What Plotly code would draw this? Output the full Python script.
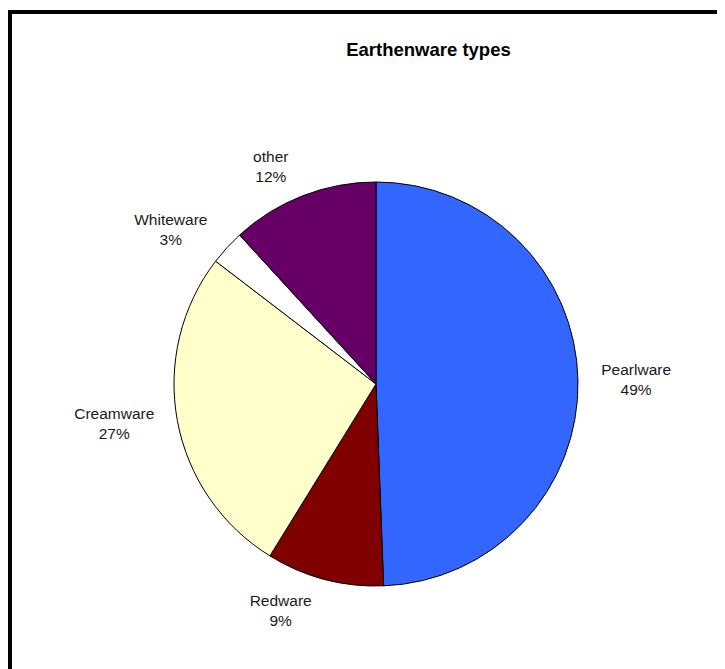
import plotly.graph_objects as go

categories = ["Pearlware", "Redware", "Creamware", "Whiteware", "other"]
values = [49.4, 9.4, 26.6, 2.8, 11.8]
colors = ["#3366FF", "#800000", "#FFFFCC", "#FFFFFF", "#660066"]
title_text = "Earthenware types"

W, H = 725, 669
cx, cy, r = 368, 376, 202      # pie centre / radius in figure pixels
r_lab = r + 14                 # radius of the invisible pie that carries the labels

FONT = "Arial, Liberation Sans, sans-serif"


def dom(rad):
    return dict(x=[(cx - rad) / W, (cx + rad) / W],
                y=[(H - cy - rad) / H, (H - cy + rad) / H])


pie_main = go.Pie(
    labels=categories,
    values=values,
    sort=False,
    direction="clockwise",
    rotation=0,
    marker=dict(colors=colors, line=dict(color="black", width=1)),
    textinfo="none",
    domain=dom(r),
    showlegend=False,
    hoverinfo="label+percent",
)

pie_labels = go.Pie(
    labels=categories,
    values=values,
    sort=False,
    direction="clockwise",
    rotation=0,
    marker=dict(colors=["rgba(0,0,0,0)"] * len(values), line=dict(width=0)),
    textposition="outside",
    texttemplate="%{label}<br>%{percent:.0%}",
    textfont=dict(family=FONT, size=15.5, color="#1a1a1a"),
    domain=dom(r_lab),
    showlegend=False,
    hoverinfo="skip",
)

fig = go.Figure([pie_main, pie_labels])

fig.update_layout(
    width=W, height=H,
    margin=dict(l=0, r=0, t=0, b=0),
    paper_bgcolor="white",
    title=dict(
        text="<b>" + title_text + "</b>",
        x=420.5 / W, xanchor="center",
        y=1 - 41.5 / H, yanchor="middle",
        font=dict(family=FONT, size=18.5, color="black"),
    ),
    shapes=[dict(
        type="rect", xref="paper", yref="paper",
        x0=2 / W, x1=1.2, y0=-0.2, y1=1 - 4 / H,
        line=dict(color="black", width=4), fillcolor="rgba(0,0,0,0)", layer="above",
    )],
)

fig.write_html("out.html")
